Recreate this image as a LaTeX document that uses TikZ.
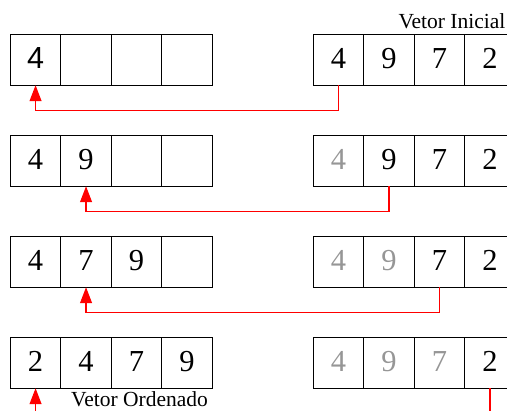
\documentclass[tikz,border=0pt]{standalone}
\usepackage{fontspec}
\setmainfont{Liberation Serif}
\newfontfamily\sansf{Liberation Sans}
\usetikzlibrary{arrows.meta}
\definecolor{faded}{RGB}{150,150,150}
\begin{document}
\begin{tikzpicture}[x=1pt,y=-1pt,
  cell/.style={draw, line width=1pt, minimum width=50.5pt, minimum height=50.5pt,
    inner sep=0pt, outer sep=0pt, font=\fontsize{30.5}{30.5}\selectfont,
    text height=20.6pt, text depth=4pt},
  old/.style={cell, text=faded},
  lab/.style={inner sep=0pt, anchor=base west, font=\fontsize{21.5}{21.5}\selectfont},
  link/.style={red, line width=1.2pt},
  arr/.style={link, -{Triangle[length=16pt,width=12pt]}}]
\useasboundingbox (0,0) rectangle (507,411);
\clip (0,0) rectangle (507,411);
% row 1
\node[cell] (L-1-1) at (35.55,60) {\sansf 4};
\node[cell] (L-1-2) at (86.05,60) {};
\node[cell] (L-1-3) at (136.55,60) {};
\node[cell] (L-1-4) at (187.05,60) {};
\node[cell] (R-1-1) at (338.55,60) {4};
\node[cell] (R-1-2) at (389.05,60) {9};
\node[cell] (R-1-3) at (439.55,60) {7};
\node[cell] (R-1-4) at (490.05,60) {2};
% row 2
\node[cell] (L-2-1) at (35.55,161) {4};
\node[cell] (L-2-2) at (86.05,161) {9};
\node[cell] (L-2-3) at (136.55,161) {};
\node[cell] (L-2-4) at (187.05,161) {};
\node[old]  (R-2-1) at (338.55,161) {4};
\node[cell] (R-2-2) at (389.05,161) {9};
\node[cell] (R-2-3) at (439.55,161) {7};
\node[cell] (R-2-4) at (490.05,161) {2};
% row 3
\node[cell] (L-3-1) at (35.55,262) {4};
\node[cell] (L-3-2) at (86.05,262) {7};
\node[cell] (L-3-3) at (136.55,262) {9};
\node[cell] (L-3-4) at (187.05,262) {};
\node[old]  (R-3-1) at (338.55,262) {4};
\node[old]  (R-3-2) at (389.05,262) {9};
\node[cell] (R-3-3) at (439.55,262) {7};
\node[cell] (R-3-4) at (490.05,262) {2};
% row 4
\node[cell] (L-4-1) at (35.55,363) {2};
\node[cell] (L-4-2) at (86.05,363) {4};
\node[cell] (L-4-3) at (136.55,363) {7};
\node[cell] (L-4-4) at (187.05,363) {9};
\node[old]  (R-4-1) at (338.55,363) {4};
\node[old]  (R-4-2) at (389.05,363) {9};
\node[old]  (R-4-3) at (439.55,363) {7};
\node[cell] (R-4-4) at (490.05,363) {2};
% labels
\node[lab] (vi) at (398.3,28.3) {Vetor Inicial};
\node[lab] (vo) at (71,407) {Vetor Ordenado};
% connectors
\draw[arr] (R-1-1.south) -- ++(0,25.4) -| (L-1-1.south);
\draw[arr] (R-2-2.south) -- ++(0,25.4) -| (L-2-2.south);
\draw[arr] (R-3-3.south) -- ++(0,25.4) -| (L-3-2.south);
\coordinate (inL) at (35.55,415);
\coordinate (outR) at (490.05,415);
\draw[arr] (inL) -- (L-4-1.south);
\draw[link] (R-4-4.south) -- (outR);
\end{tikzpicture}
\end{document}
